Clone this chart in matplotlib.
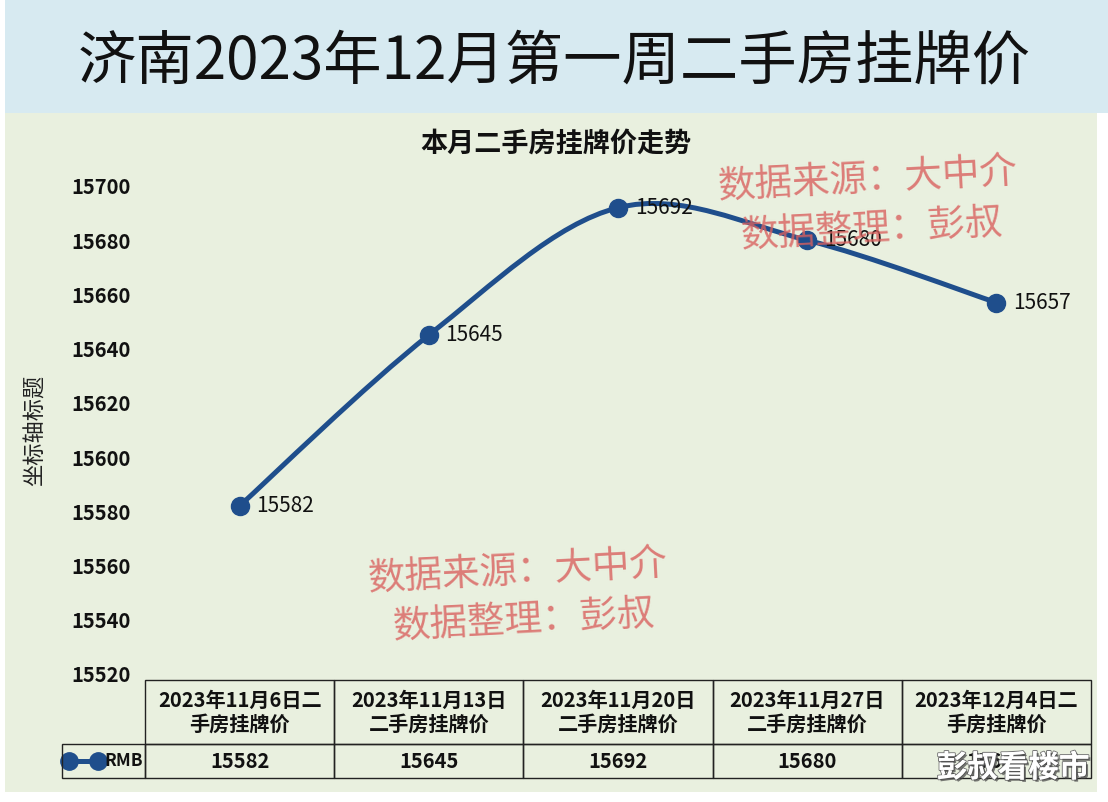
import matplotlib
matplotlib.use('Agg')
import matplotlib.pyplot as plt
import matplotlib.patheffects as pe
from matplotlib.path import Path
from matplotlib.patches import PathPatch, Rectangle
from matplotlib.lines import Line2D

plt.rcParams['font.family'] = ['Noto Sans CJK SC', 'DejaVu Sans']

# data
dates = ['2023年11月6日二\n手房挂牌价', '2023年11月13日\n二手房挂牌价', '2023年11月20日\n二手房挂牌价',
         '2023年11月27日\n二手房挂牌价', '2023年12月4日二\n手房挂牌价']
prices = [15582, 15645, 15692, 15680, 15657]
series_name = 'RMB'
y_ticks = [15520, 15540, 15560, 15580, 15600, 15620, 15640, 15660, 15680, 15700]

title = '济南2023年12月第一周二手房挂牌价'
chart_title = '本月二手房挂牌价走势'
y_label = '坐标轴标题'
source_text = '数据来源：大中介'
author_text = '数据整理：彭叔'
brand_text = '彭叔看楼市'

line_color = '#1f4e8c'
W, H = 1108, 802

fig = plt.figure(figsize=(W / 100, H / 100), dpi=100)
fig.patch.set_facecolor('white')

# background panels
fig.patches.append(Rectangle((5 / W, 1 - 113 / H), 1 - 5 / W, 113 / H, transform=fig.transFigure,
                             facecolor='#d7eaf1', edgecolor='none', zorder=-2))
fig.patches.append(Rectangle((5 / W, 1 - 792 / H), 1092 / W, 679 / H, transform=fig.transFigure,
                             facecolor='#e9f0df', edgecolor='none', zorder=-2))

fig.text(554 / W, 1 - 62 / H, title, fontsize=42, ha='center', va='center', color='#111111')

ax = fig.add_axes([145 / W, 1 - 674 / H, 946 / W, 488 / H])
ax.set_facecolor('none')
ax.set_xlim(-0.5, len(prices) - 0.5)
ax.set_ylim(y_ticks[0], y_ticks[-1])
ax.set_yticks(y_ticks)
ax.set_yticklabels([str(v) for v in y_ticks], fontsize=14.5, fontweight='bold', color='#111111')
ax.set_xticks([])
ax.tick_params(axis='y', length=0, pad=10)
for s in ax.spines.values():
    s.set_visible(False)
ax.set_ylabel(y_label, fontsize=16, color='#222222')
ax.yaxis.set_label_coords(-98 / 946, 0.5)

ax.text(0.434, 1 + 42 / 488, chart_title, transform=ax.transAxes, fontsize=19.5, fontweight='bold',
        ha='center', va='center', color='#111111')

# smoothed line (Excel-style bezier through the points)
xs = list(range(len(prices)))
pts = list(zip(xs, prices))
verts = [pts[0]]
codes = [Path.MOVETO]
for i in range(len(pts) - 1):
    p0 = pts[i - 1] if i > 0 else pts[i]
    p1 = pts[i]
    p2 = pts[i + 1]
    p3 = pts[i + 2] if i + 2 < len(pts) else pts[i + 1]
    c1 = (p1[0] + (p2[0] - p0[0]) / 6, p1[1] + (p2[1] - p0[1]) / 6)
    c2 = (p2[0] - (p3[0] - p1[0]) / 6, p2[1] - (p3[1] - p1[1]) / 6)
    verts += [c1, c2, p2]
    codes += [Path.CURVE4] * 3
ax.add_patch(PathPatch(Path(verts, codes), facecolor='none', edgecolor=line_color, lw=3.6,
                       capstyle='round', zorder=3, clip_on=False))
ax.plot(xs, prices, linestyle='none', marker='o', markersize=13, color=line_color, zorder=4,
        clip_on=False)
for x, v in zip(xs, prices):
    ax.annotate(str(v), (x, v), xytext=(12, 0), textcoords='offset points', fontsize=15,
                ha='left', va='center', color='#111111', zorder=5)

# data table (grid of data columns fills the plot width, row label hangs left)
tbl = ax.table(cellText=[[str(v) for v in prices]], colLabels=dates,
               cellLoc='center', colWidths=[1 / len(prices)] * len(prices),
               bbox=[0, -104 / 488, 1, 98 / 488])
tbl.add_cell(1, -1, 83 / 946, 34, text=series_name, loc='right')
tbl.auto_set_font_size(False)
for (r, c), cell in tbl.get_celld().items():
    cell.set_facecolor('none')
    cell.set_edgecolor('#222222')
    cell.set_linewidth(1.0)
    cell.get_text().set_fontweight('bold')
    cell.get_text().set_color('#111111')
    cell.get_text().set_fontsize(14.5)
    if r == 0:
        cell.set_height(64)
        cell.get_text().set_linespacing(1.15)
    else:
        cell.set_height(34)
    if c == -1:
        cell.get_text().set_fontsize(12.5)
        cell.PAD = 0.025

# legend key inside the RMB cell, drawn under the table text
key = Line2D([], [], color=line_color, lw=3.6, marker='o', markersize=12.5)
leg = fig.legend([key], [''], loc='center left', bbox_to_anchor=(55 / W, 1 - 762 / H),
                 frameon=False, numpoints=2, handlelength=2.2, handletextpad=0, borderpad=0,
                 prop={'size': 13})
leg.set_zorder(-1)

# watermarks
wm_color = '#d9605e'
for cx, cy, txt in [(518, 572, source_text), (524, 621, author_text),
                    (868, 180, source_text), (872, 230, author_text)]:
    fig.text(cx / W, 1 - cy / H, txt, fontsize=27, color=wm_color, alpha=0.8, rotation=3,
             ha='center', va='center', zorder=6)

fig.text(1013 / W, 1 - 768 / H, brand_text, fontsize=22, fontweight='bold', color='white',
         ha='center', va='center', zorder=7,
         path_effects=[pe.withStroke(linewidth=1.5, foreground='#777777'),
                       pe.withSimplePatchShadow(offset=(1.5, -1.5), shadow_rgbFace='#444444', alpha=0.7)])

fig.savefig('out.png', dpi=100, facecolor=fig.get_facecolor())
